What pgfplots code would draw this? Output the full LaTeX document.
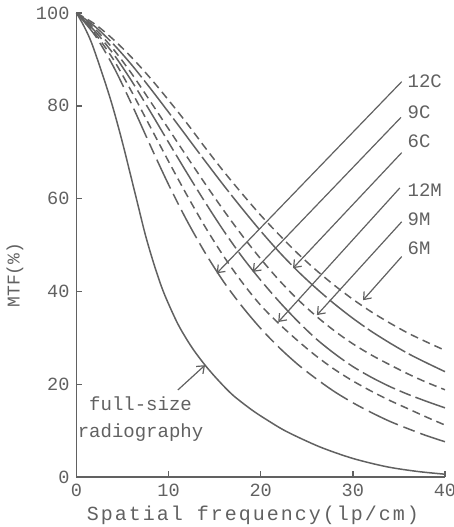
\documentclass[border=0pt]{standalone}
\usepackage{pgfplots}
\usepackage{pgfplotstable}
\usepackage{fontspec}
\pgfplotsset{compat=1.18}
\usetikzlibrary{arrows.meta}
\setmainfont{Liberation Mono}
\newfontfamily\xlab[LetterSpace=10]{Liberation Mono}

\definecolor{ink}{gray}{0.38}

% x, 6M, 6C, 9M, 9C, 12M, 12C
\pgfplotstableread{
x    A     B     C     D     E     F
0    100   100   100   100   100   100
2    97.6  97.1  96.6  96.1  95.6  95.2
4    94.3  93.3  92.2  91.2  90.0  88.5
6    90.4  88.8  86.9  85.3  83.0  80.3
8    86.0  83.8  81.0  78.8  75.5  71.5
10   81.2  78.6  75.0  72.1  68.0  63.0
12   76.2  73.3  69.0  65.5  60.7  55.2
14   70.9  68.0  63.1  59.1  53.8  48.2
16   65.8  62.8  57.4  53.0  47.5  42.0
18   61.0  57.8  52.0  47.4  41.9  36.7
20   56.4  53.0  47.0  42.4  37.0  32.0
22   52.2  48.5  42.4  37.8  33.0  27.9
24   48.2  44.4  38.3  33.6  29.4  24.3
26   44.6  40.7  34.7  29.8  26.1  21.2
28   41.3  37.3  31.5  26.6  23.2  18.4
30   38.3  34.2  28.7  23.8  20.7  16.0
32   35.6  31.4  26.3  21.5  18.5  13.9
34   33.2  28.9  24.2  19.5  16.5  12.0
36   31.0  26.6  22.2  17.8  14.7  10.4
38   29.1  24.6  20.4  16.3  12.9  8.9
40   27.3  22.7  18.8  14.9  11.2  7.6
}\screens

\pgfplotstableread{
x     y
0     100
0.8   97.2
1.65  93.5
2.9   86.3
3.9   80
5     72
6.5   60
7.5   52
8.5   45.3
9.5   39.6
11    33
12.5  28
14    24
15.5  20.6
17    17.6
19    14.5
20.6  12.4
22.8  9.8
26.4  6.5
30    4.0
33.7  2.2
37    1.2
40    0.6
}\fullsize

\begin{document}
\begin{tikzpicture}
\path[use as bounding box] (-38.25pt,-25pt) rectangle (188.75pt,238.5pt);
\begin{axis}[
    scale only axis,
    width=184.25pt, height=232pt,
    xmin=0, xmax=40, ymin=0, ymax=100,
    axis lines=left,
    axis line style={-, ink, line width=0.8pt},
    tick style={ink, line width=0.7pt},
    major tick length=3pt,
    tick align=inside,
    xtick={0,10,20,30,40},
    ytick={0,20,40,60,80,100},
    /pgf/number format/assume math mode=true,
    ticklabel style={font=\fontsize{9.3}{10}\selectfont, text=ink},
    xlabel={Spatial frequency(lp/cm)},
    ylabel={MTF(\%)},
    every axis x label/.style={at={(axis description cs:0.479,0)}, anchor=center,
        yshift=-19pt, font=\xlab\fontsize{10}{12}\selectfont, text=ink},
    every axis y label/.style={at={(axis description cs:-0.167,0.435)}, anchor=center,
        rotate=90, font=\fontsize{9}{10}\selectfont, text=ink},
    clip=false,
]
\addplot[ink, line width=0.75pt, smooth] table[x=x, y=y] {\fullsize};
\addplot[ink, line width=0.75pt, smooth, dash pattern=on 4pt off 2.5pt] table[x=x, y=A] {\screens};
\addplot[ink, line width=0.75pt, smooth, dash pattern=on 22pt off 2pt] table[x=x, y=B] {\screens};
\addplot[ink, line width=0.75pt, smooth, dash pattern=on 4pt off 2.5pt] table[x=x, y=C] {\screens};
\addplot[ink, line width=0.75pt, smooth, dash pattern=on 18pt off 2.5pt on 6pt off 2.5pt] table[x=x, y=D] {\screens};
\addplot[ink, line width=0.75pt, smooth, dash pattern=on 4pt off 2.5pt] table[x=x, y=E] {\screens};
\addplot[ink, line width=0.75pt, smooth, dash pattern=on 16pt off 3pt on 6pt off 3pt] table[x=x, y=F] {\screens};

% arrows from labels
\begin{scope}[ink, line width=0.6pt, -{Straight Barb[length=3.2pt,width=5pt]}]
\draw (axis cs:35.3,85.2) -- (axis cs:15.22,43.9);
\draw (axis cs:35.22,77.5) -- (axis cs:19.13,44.2);
\draw (axis cs:35.3,69.9) -- (axis cs:23.5,45.0);
\draw (axis cs:35.1,62.3) -- (axis cs:21.9,33.4);
\draw (axis cs:35.3,55.0) -- (axis cs:26.1,34.9);
\draw (axis cs:35.3,47.5) -- (axis cs:31.1,38.1);
\draw (axis cs:11.0,18.75) -- (axis cs:13.95,24.1);
\end{scope}

\begin{scope}[font=\fontsize{9.5}{11}\selectfont, text=ink, inner sep=0pt]
\node[anchor=west] at (axis cs:35.9,85.2) {12C};
\node[anchor=west] at (axis cs:35.9,78.7) {9C};
\node[anchor=west] at (axis cs:35.9,72.3) {6C};
\node[anchor=west] at (axis cs:35.9,61.9) {12M};
\node[anchor=west] at (axis cs:35.9,55.5) {9M};
\node[anchor=west] at (axis cs:35.9,49.2) {6M};
\node at (axis cs:6.95,15.9) {full-size};
\node at (axis cs:6.95,9.5) {radiography};
\end{scope}
\end{axis}
\end{tikzpicture}
\end{document}
